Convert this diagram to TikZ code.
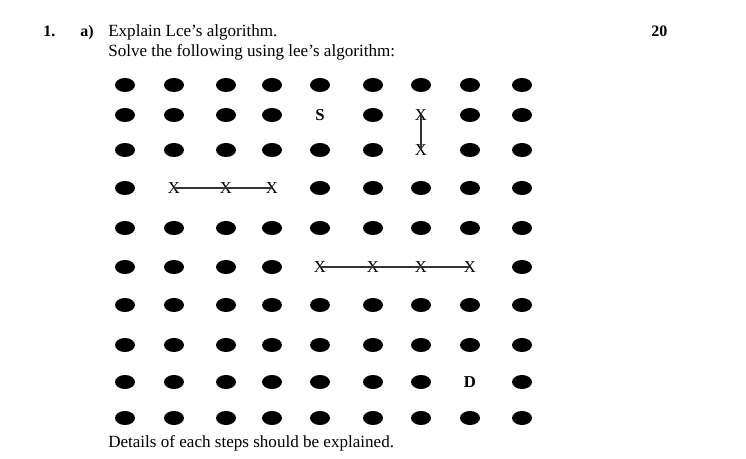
\documentclass[tikz,border=0pt]{standalone}
\usepackage{fontspec}
\setmainfont{Liberation Serif}
\usepackage{tikz}
\usetikzlibrary{shapes.geometric}

% cells that carry S, D or an X instead of a dot
\def\specialcells{,2-5,2-7,3-7,4-2,4-3,4-4,6-5,6-6,6-7,6-8,9-8,}
\makeatletter
\newcommand\ifspecialcell[3]{%
  \edef\tmpcell{\noexpand\in@{,#1,}{\specialcells}}\tmpcell
  \ifin@ #2\else #3\fi}
\makeatother

\tikzset{
  pin/.style={ellipse,fill=black,draw=none,inner sep=0pt,
    minimum width=15pt,minimum height=10.5pt},
  blocked/.style={inner sep=0pt,font=\fontsize{12.5}{12.5}\selectfont},
  term/.style={inner sep=0pt,font=\fontsize{12.5}{12.5}\selectfont\bfseries},
  wall/.style={line width=1.3pt,draw=black!80},
  txt/.style={anchor=base west,inner sep=0pt,font=\fontsize{12.8}{14}\selectfont}
}

\begin{document}
\begin{tikzpicture}[x=0.75pt,y=-0.75pt]
\useasboundingbox (0,0) rectangle (746,459);

    \node[txt,font=\fontsize{12}{14}\selectfont\bfseries] (num) at (43,37) {1.};
    \node[txt,font=\fontsize{12}{14}\selectfont\bfseries] (part) at (80,37) {a)};
    \node[txt] (q1) at (108,37) {Explain Lce’s algorithm.};
    \node[txt] (q2) at (108,57) {Solve the following using lee’s algorithm:};
    \node[txt,font=\fontsize{12}{14}\selectfont\bfseries] (marks) at (651,37) {20};

    % grid of pins
    \foreach \y [count=\r] in {85,115,150,188,228,267,305,345,382,418}{
      \foreach \x [count=\c] in {125,174,226,272,320,373,421,470,522}{
        \ifspecialcell{\r-\c}{\coordinate (p-\r-\c) at (\x,\y);}
          {\node[pin] (p-\r-\c) at (\x,\y) {};}
      }
    }

    \node[term] (S) at (p-2-5) {S};
    \node[term] (D) at (p-9-8) {D};

    \foreach \cell in {2-7,3-7,4-2,4-3,4-4,6-5,6-6,6-7,6-8}
      \node[blocked] (x-\cell) at (p-\cell) {X};

    \draw[wall] (x-2-7.center) -- (x-3-7.center);
    \draw[wall] (x-4-2.center) -- (x-4-4.center);
    \draw[wall] (x-6-5.center) -- (x-6-8.center);

    \node[txt] (note) at (108,447) {Details of each steps should be explained.};
\end{tikzpicture}
\end{document}
